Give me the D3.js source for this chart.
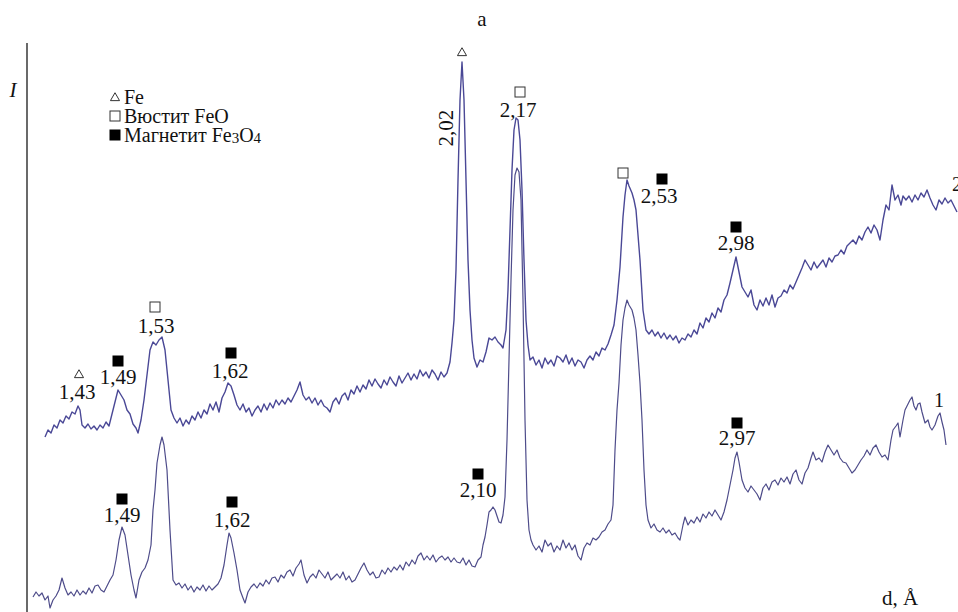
<!DOCTYPE html>
<html><head><meta charset="utf-8">
<script src="https://cdn.jsdelivr.net/npm/d3@7"></script>
<style>html,body{margin:0;padding:0;background:#fff;} svg{display:block;} svg text{font-family:"Liberation Serif","DejaVu Serif",serif;fill:#111;}</style>
</head><body>
<svg id="chart" width="958" height="612"></svg>
<script>
// Curve 2 (upper pattern): [channel, intensity]
const curve2 = [
[45,175],[48,182],[51,179],[54,187],[57,184],[60,192],[63,189],[66,196],[69,193],[72,200],[75,198],[78,206],[80,202],[82,187],[85,184],[88,188],[91,183],[94,186],[97,182],[100,187],[103,184],[106,190],[109,186],[112,198],[115,210],[118,222],[121,217],[124,212],[127,202],[130,198],[133,188],[136,184],[138,179],[141,192],[144,212],[147,237],[150,262],[153,270],[156,267],[159,272],[162,275],[165,262],[168,232],[171,202],[174,194],[177,189],[180,194],[183,186],[186,192],[189,188],[192,196],[195,192],[198,200],[201,194],[204,202],[207,198],[210,208],[213,202],[216,210],[219,200],[222,214],[225,220],[228,229],[231,226],[234,217],[237,207],[240,202],[243,208],[246,200],[249,204],[252,196],[255,202],[258,206],[261,200],[264,208],[267,202],[270,209],[273,204],[276,212],[279,207],[282,212],[285,208],[288,214],[291,210],[294,216],[297,222],[300,230],[303,217],[306,212],[309,215],[312,209],[315,214],[318,207],[321,212],[324,206],[327,204],[330,200],[333,210],[336,214],[339,208],[342,216],[345,219],[348,212],[351,222],[354,218],[357,226],[360,220],[363,227],[366,223],[369,232],[372,226],[375,233],[378,228],[381,224],[384,232],[387,227],[390,235],[393,230],[396,226],[399,236],[402,229],[405,234],[408,239],[411,232],[414,238],[417,233],[420,242],[423,236],[426,240],[429,234],[432,242],[435,238],[438,232],[441,240],[444,235],[447,239],[450,250],[452,269],[454,292],[456,342],[458,432],[460,512],[462,550],[464,512],[466,432],[468,352],[470,302],[472,272],[474,254],[477,245],[480,252],[483,250],[486,260],[489,274],[492,272],[495,275],[498,270],[501,267],[503,264],[506,282],[508,322],[510,382],[512,442],[514,482],[516,494],[518,492],[520,472],[522,422],[524,352],[526,292],[528,267],[530,252],[533,255],[536,247],[539,252],[542,244],[545,254],[548,248],[551,252],[554,246],[557,256],[560,254],[563,250],[566,257],[569,248],[572,254],[575,246],[578,252],[581,250],[584,244],[587,252],[590,256],[593,252],[596,260],[599,256],[602,264],[605,262],[608,268],[611,277],[614,287],[617,312],[620,345],[623,395],[625,417],[627,432],[629,426],[632,419],[634,412],[636,402],[638,377],[640,352],[643,302],[646,282],[649,278],[652,282],[655,276],[658,280],[661,274],[664,279],[667,273],[670,277],[673,272],[676,276],[679,269],[682,274],[685,272],[688,278],[691,275],[694,282],[697,278],[700,289],[703,284],[706,294],[709,290],[712,299],[715,294],[718,304],[721,300],[724,312],[727,317],[730,329],[733,342],[736,355],[739,340],[742,325],[745,320],[748,315],[751,322],[754,307],[757,302],[760,312],[763,306],[766,314],[769,307],[772,317],[775,305],[778,314],[781,316],[784,322],[787,319],[790,327],[793,323],[796,330],[799,337],[802,344],[805,352],[808,347],[811,342],[814,350],[817,344],[820,348],[823,352],[826,345],[829,354],[832,350],[835,356],[838,357],[841,362],[844,358],[847,366],[850,369],[853,372],[856,368],[859,376],[862,372],[865,380],[868,385],[871,379],[874,387],[877,382],[880,372],[883,392],[886,407],[889,402],[892,427],[895,412],[898,417],[901,407],[903,416],[906,412],[909,416],[912,410],[915,417],[918,412],[921,419],[924,415],[927,422],[930,414],[933,407],[936,402],[939,412],[942,408],[945,414],[948,409],[951,412],[954,406],[957,400]
];
// Curve 1 (lower pattern): [channel, intensity]
const curve1 = [
[33,15],[36,20],[39,16],[42,19],[45,12],[48,16],[50,4],[53,12],[56,16],[59,22],[62,34],[65,24],[68,17],[71,20],[74,16],[77,22],[80,17],[83,21],[86,18],[89,24],[92,19],[95,26],[98,27],[101,22],[104,20],[107,26],[110,32],[113,37],[116,52],[119,72],[122,85],[125,77],[128,57],[131,37],[134,22],[136,14],[139,32],[142,40],[145,44],[148,52],[151,67],[153,102],[155,122],[157,149],[160,167],[162,175],[164,167],[167,142],[170,82],[173,32],[176,27],[179,29],[182,24],[185,28],[188,22],[191,26],[194,20],[197,25],[200,22],[203,27],[206,21],[209,26],[212,22],[215,25],[218,28],[221,34],[224,47],[227,67],[229,79],[231,74],[234,59],[237,42],[240,22],[243,14],[245,9],[248,20],[251,25],[254,28],[257,24],[260,29],[263,26],[266,32],[269,28],[272,34],[275,35],[278,30],[281,37],[284,34],[287,40],[290,42],[293,36],[296,44],[299,48],[301,52],[304,37],[307,29],[310,35],[313,38],[316,34],[319,42],[322,38],[325,34],[328,40],[331,32],[334,35],[337,38],[340,34],[343,40],[346,32],[349,36],[352,30],[355,32],[358,38],[361,44],[364,49],[367,42],[370,37],[373,40],[376,34],[379,35],[382,42],[385,38],[388,44],[391,40],[394,45],[397,42],[400,47],[403,42],[406,50],[409,46],[412,52],[415,48],[418,56],[421,59],[424,52],[427,56],[430,52],[433,57],[436,50],[439,54],[442,56],[445,52],[448,55],[451,50],[454,54],[457,50],[460,49],[463,54],[466,47],[469,52],[472,46],[475,45],[478,52],[481,55],[483,67],[485,75],[487,87],[489,100],[491,102],[493,105],[495,102],[497,96],[499,90],[501,89],[503,97],[505,115],[507,172],[509,252],[511,332],[513,402],[515,437],[517,444],[519,440],[521,412],[523,312],[525,192],[527,112],[529,82],[531,72],[533,67],[536,62],[539,66],[542,60],[545,72],[548,66],[551,69],[554,60],[557,66],[560,62],[563,72],[566,64],[569,69],[572,62],[575,67],[578,56],[581,52],[584,64],[587,69],[590,67],[593,74],[596,72],[599,75],[602,80],[605,82],[608,88],[611,92],[613,107],[615,162],[617,202],[619,229],[621,267],[623,292],[625,304],[627,312],[629,307],[632,302],[634,294],[636,282],[638,257],[640,229],[642,192],[644,142],[646,107],[648,92],[651,84],[654,88],[657,82],[660,80],[663,84],[666,79],[669,82],[672,77],[675,79],[678,74],[680,72],[683,87],[685,95],[688,87],[691,92],[694,89],[697,95],[700,90],[703,98],[706,94],[709,100],[712,96],[715,102],[718,97],[721,92],[724,100],[727,112],[730,127],[733,142],[735,154],[737,160],[739,150],[742,132],[745,124],[748,120],[751,126],[754,122],[757,118],[760,112],[763,124],[766,128],[769,122],[772,130],[775,132],[778,127],[781,134],[784,130],[787,135],[790,128],[793,138],[796,142],[799,132],[802,128],[805,139],[808,144],[811,154],[813,160],[816,152],[819,154],[822,150],[825,160],[828,167],[831,162],[834,157],[837,162],[840,154],[843,150],[846,149],[849,144],[852,139],[855,142],[858,147],[861,152],[864,156],[867,162],[870,157],[873,164],[876,167],[879,160],[882,155],[885,157],[888,152],[891,172],[893,182],[896,186],[898,189],[900,175],[903,192],[905,202],[908,208],[910,212],[912,215],[914,206],[916,202],[918,208],[920,209],[922,200],[925,189],[928,192],[930,185],[932,182],[935,187],[938,196],[940,199],[942,190],[944,182],[946,167]
];
// Peak d-spacing labels: [text, channel, intensity]
const peakLabels = [
["1,43",77,220],["1,49",118,235],["1,53",156,286],["1,62",230,241],
["2,17",518,502],["2,53",659,416],["2,98",736,369],
["1,49",122,97],["1,62",232,92],["2,10",478,122],["2,97",737,174]
];
const rotatedLabels = [["2,02",446,484]];
// Phase markers: [type, channel, intensity]  tri = Fe, open = FeO, filled = Fe3O4
const markers = [
["tri",79,238],["filled",118,251],["open",155,305],["filled",231,259],
["tri",462,560],["open",520,520],["open",623,439],["filled",662,433],["filled",736,385],
["filled",122,113],["filled",232,110],["filled",478,138],["filled",737,189]
];
const curveNames = [["1",939,212],["2",957,428]];
const legendItems = [["tri","Fe",""],["open","Вюстит FeO",""],["filled","Магнетит Fe","3O4"]];

const W = 958, H = 612;
const svg = d3.select("#chart");
const x = d3.scaleLinear().domain([0, 958]).range([0, W]);
const y = d3.scaleLinear().domain([0, 612]).range([H, 0]);

// vertical intensity axis
svg.append("line").attr("x1", 27).attr("x2", 27).attr("y1", 43).attr("y2", H)
  .attr("stroke", "#444").attr("stroke-width", 1.6);

const line = d3.line().x(d => x(d[0])).y(d => y(d[1]));
svg.append("path").datum(curve1).attr("d", line).attr("fill", "none")
  .attr("stroke", "#4e4c8a").attr("stroke-width", 1.2).attr("stroke-linejoin", "round");
svg.append("path").datum(curve2).attr("d", line).attr("fill", "none")
  .attr("stroke", "#4a4896").attr("stroke-width", 1.4).attr("stroke-linejoin", "round");

function drawMarker(g, type, cx, cy) {
  if (type === "tri") {
    g.append("path").attr("d", d3.symbol(d3.symbolTriangle, 36)())
      .attr("transform", `translate(${cx},${cy + 1})`)
      .attr("fill", "none").attr("stroke", "#333").attr("stroke-width", 1);
  } else {
    const s = type === "open" ? 10 : 11;
    g.append("rect").attr("x", cx - s / 2).attr("y", cy - s / 2).attr("width", s).attr("height", s)
      .attr("fill", type === "open" ? "#fff" : "#000")
      .attr("stroke", type === "open" ? "#333" : "none").attr("stroke-width", 1);
  }
}

const mg = svg.append("g");
markers.forEach(m => drawMarker(mg, m[0], x(m[1]), y(m[2])));

svg.append("g").selectAll("text").data(peakLabels).join("text")
  .attr("x", d => x(d[1])).attr("y", d => y(d[2])).attr("dy", "0.35em")
  .attr("text-anchor", "middle").attr("font-size", 21).text(d => d[0]);

svg.append("g").selectAll("text").data(rotatedLabels).join("text")
  .attr("transform", d => `translate(${x(d[1])},${y(d[2])}) rotate(-90)`)
  .attr("dy", "0.35em").attr("text-anchor", "middle").attr("font-size", 21).text(d => d[0]);

svg.append("g").selectAll("text").data(curveNames).join("text")
  .attr("x", d => x(d[1])).attr("y", d => y(d[2])).attr("dy", "0.35em")
  .attr("text-anchor", "middle").attr("font-size", 20).text(d => d[0]);

// legend
const lg = svg.append("g");
legendItems.forEach((it, i) => {
  const ly = 97 + i * 19;
  drawMarker(lg, it[0], 115, ly);
  const t = lg.append("text").attr("x", 124).attr("y", ly).attr("dy", "0.35em")
    .attr("font-size", 20).text(it[1]);
  if (it[2]) {
    t.append("tspan").attr("font-size", 15).attr("dy", 1).text(it[2][0]);
    t.append("tspan").attr("font-size", 20).attr("dy", -1).text(it[2][1]);
    t.append("tspan").attr("font-size", 15).attr("dy", 1).text(it[2][2]);
  }
});

// titles
svg.append("text").attr("x", 482).attr("y", 19).attr("dy", "0.35em").attr("text-anchor", "middle")
  .attr("font-size", 21).text("a");
svg.append("text").attr("x", 13).attr("y", 90).attr("dy", "0.35em").attr("text-anchor", "middle")
  .attr("font-style", "italic").attr("font-size", 21).text("I");
svg.append("text").attr("x", 900).attr("y", 598).attr("dy", "0.35em").attr("text-anchor", "middle")
  .attr("font-size", 21).text("d, Å");
</script>
</body></html>
